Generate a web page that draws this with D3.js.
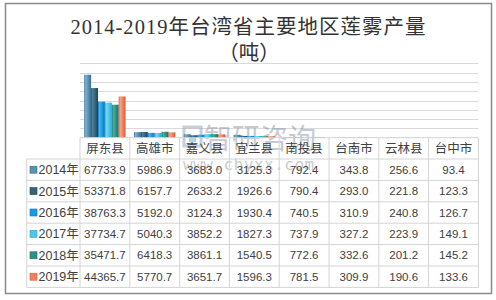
<!DOCTYPE html>
<html>
<head>
<meta charset="utf-8">
<script src="https://cdn.jsdelivr.net/npm/d3@7"></script>
<style>
  body { margin: 0; background: #fff; }
  svg { display: block; }
</style>
</head>
<body>
<svg id="chart" width="496" height="300"></svg>
<script>
const categories = ["屏东县", "高雄市", "嘉义县", "宜兰县", "南投县", "台南市", "云林县", "台中市"];
const seriesNames = ["2014年", "2015年", "2016年", "2017年", "2018年", "2019年"];
const v2014 = [67733.9, 5986.9, 3683.0, 3125.3, 792.4, 343.8, 256.6, 93.4];
const v2015 = [53371.8, 6157.7, 2633.2, 1926.6, 790.4, 293.0, 221.8, 123.3];
const v2016 = [38763.3, 5192.0, 3124.3, 1930.4, 740.5, 310.9, 240.8, 126.7];
const v2017 = [37734.7, 5040.3, 3852.2, 1827.3, 737.9, 327.2, 223.9, 149.1];
const v2018 = [35471.7, 6418.3, 3861.1, 1540.5, 772.6, 332.6, 201.2, 145.2];
const v2019 = [44365.7, 5770.7, 3651.7, 1596.3, 781.5, 309.9, 190.6, 133.6];
const seriesValues = [v2014, v2015, v2016, v2017, v2018, v2019];
const yTicks = [10000, 20000, 30000, 40000, 50000, 60000, 70000, 80000];

(function () {
const fmt = d3.format(".1f");

const colors = [
  {light: "#78b2d0", base: "#5593b5", dark: "#3a6d89"},
  {light: "#4f7f9a", base: "#36627c", dark: "#1f4257"},
  {light: "#45b6f0", base: "#1a9be2", dark: "#0b74b8"},
  {light: "#7ad8f2", base: "#4ec6ea", dark: "#2ea6cc"},
  {light: "#4fb0a3", base: "#2b9386", dark: "#1a6e63"},
  {light: "#fba58a", base: "#f2805f", dark: "#cf5c3c"}
];

const svg = d3.select("#chart");
const defs = svg.append("defs");
colors.forEach((c, i) => {
  const g = defs.append("linearGradient").attr("id", "g" + i)
    .attr("x1", "0").attr("x2", "1").attr("y1", "0").attr("y2", "0");
  g.append("stop").attr("offset", "0").attr("stop-color", c.dark);
  g.append("stop").attr("offset", "0.2").attr("stop-color", c.light);
  g.append("stop").attr("offset", "0.6").attr("stop-color", c.base);
  g.append("stop").attr("offset", "1").attr("stop-color", c.dark);
});

// outer border
svg.append("rect").attr("x", 5.5).attr("y", 3.5).attr("width", 486).attr("height", 290)
  .attr("fill", "#fff").attr("stroke", "#8a8a8a").attr("stroke-width", 1.5);

// title
const title = svg.append("text").attr("text-anchor", "middle")
  .attr("font-family", "'Liberation Serif','Noto Sans CJK SC'")
  .attr("font-size", 20.5).attr("fill", "#333");
title.append("tspan").attr("x", 248).attr("y", 34)
  .attr("textLength", 355).attr("lengthAdjust", "spacing")
  .text("2014-2019年台湾省主要地区莲雾产量");
title.append("tspan").attr("x", 249).attr("y", 60).text("（吨）");

const pLeft = 80, pRight = 478.4, pTop = 63.3, pBottom = 137.7;
const x0 = d3.scaleBand().domain(categories).range([pLeft, pRight]).paddingInner(0.17).paddingOuter(0.085);
const x1 = d3.scaleBand().domain(seriesNames).range([0, x0.bandwidth()]);
const y = d3.scaleLinear().domain([0, 80000]).range([pBottom, pTop]);

// gridlines
svg.append("g").selectAll("line").data(yTicks).join("line")
  .attr("x1", pLeft).attr("x2", pRight)
  .attr("y1", d => Math.round(y(d)) + 0.5).attr("y2", d => Math.round(y(d)) + 0.5)
  .attr("stroke", "#d9d9d9").attr("stroke-width", 1);

// watermark
const wm = svg.append("g").attr("opacity", 0.45);
wm.append("rect").attr("x", 184).attr("y", 127).attr("width", 17).attr("height", 19)
  .attr("fill", "none").attr("stroke", "#7f93ad").attr("stroke-width", 3);
wm.append("rect").attr("x", 189).attr("y", 136).attr("width", 7).attr("height", 6)
  .attr("fill", "#4d9ad6");
wm.append("text").attr("x", 204).attr("y", 149).attr("font-family", "'Noto Sans CJK SC'")
  .attr("font-size", 28).attr("fill", "#7f8c9c").text("智研咨询");
wm.append("text").attr("x", 183).attr("y", 170).attr("font-family", "'DejaVu Sans Mono','Liberation Mono'")
  .attr("font-size", 16).attr("fill", "#8a8a8a").attr("letter-spacing", 0.5).text("www.chyxx.com");

// bars
const groups = svg.append("g").selectAll("g").data(categories).join("g")
  .attr("transform", d => `translate(${x0(d)},0)`);
groups.selectAll("rect").data((d, ci) => seriesNames.map((s, si) => ({s, si, v: seriesValues[si][ci]})))
  .join("rect")
  .attr("x", d => x1(d.s))
  .attr("y", d => y(d.v))
  .attr("width", x1.bandwidth())
  .attr("height", d => pBottom - y(d.v))
  .attr("fill", d => `url(#g${d.si})`);

// table
const rowTop = 159, rowH = 21.4, tLeft = 26.7;
const lineColor = "#d4d4d4";
const tg = svg.append("g");
const colEdges = categories.map(c => x0(c) - x0.step() * x0.paddingInner() / 2);
colEdges.push(pRight);
tg.append("line").attr("x1", pLeft).attr("x2", pRight).attr("y1", pBottom).attr("y2", pBottom)
  .attr("stroke", lineColor);
d3.range(7).forEach(i => {
  const yy = rowTop + i * rowH;
  tg.append("line").attr("x1", tLeft).attr("x2", pRight).attr("y1", yy).attr("y2", yy).attr("stroke", lineColor);
});
tg.append("line").attr("x1", tLeft).attr("x2", tLeft).attr("y1", rowTop).attr("y2", rowTop + 6 * rowH).attr("stroke", lineColor);
colEdges.forEach(xe => {
  tg.append("line").attr("x1", xe).attr("x2", xe).attr("y1", pBottom).attr("y2", rowTop + 6 * rowH).attr("stroke", lineColor);
});
tg.selectAll("text.h").data(categories).join("text").attr("class", "h")
  .attr("x", d => x0(d) + x0.bandwidth() / 2).attr("y", (pBottom + rowTop) / 2 + 4.5)
  .attr("text-anchor", "middle").attr("font-family", "'Noto Sans CJK SC'")
  .attr("font-size", 12.5).attr("fill", "#404040").text(d => d);
seriesNames.forEach((s, si) => {
  const cy = rowTop + si * rowH + rowH / 2;
  tg.append("rect").attr("x", 30).attr("y", cy - 3.5).attr("width", 7).attr("height", 7)
    .attr("fill", colors[si].base).attr("stroke", colors[si].dark).attr("stroke-width", 0.6);
  tg.append("text").attr("x", 38.5).attr("y", cy + 4.5)
    .attr("font-family", "'Liberation Sans','Noto Sans CJK SC'").attr("font-size", 12.5)
    .attr("fill", "#404040").text(s);
  categories.forEach((c, ci) => {
    tg.append("text").attr("x", x0(c) + x0.bandwidth() / 2).attr("y", cy + 4)
      .attr("text-anchor", "middle").attr("font-family", "'Liberation Sans'")
      .attr("font-size", 11.5).attr("fill", "#404040").text(fmt(seriesValues[si][ci]));
  });
});
})();
</script>
</body>
</html>
